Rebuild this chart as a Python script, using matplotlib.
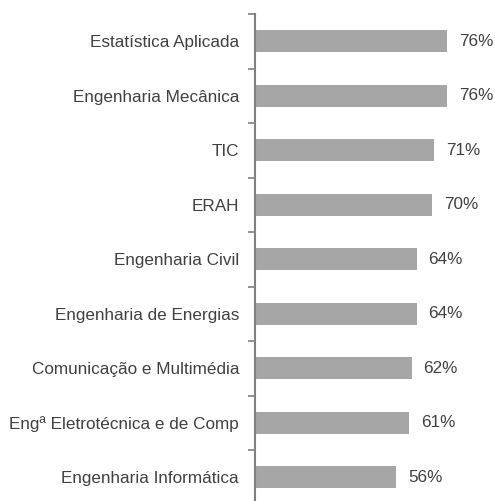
import matplotlib.pyplot as plt
from matplotlib.ticker import FixedLocator
import numpy as np

# cursos e percentagens (de cima para baixo)
cursos = ['Estatística Aplicada', 'Engenharia Mecânica', 'TIC', 'ERAH',
          'Engenharia Civil', 'Engenharia de Energias',
          'Comunicação e Multimédia', 'Engª Eletrotécnica e de Comp',
          'Engenharia Informática']
valores = [76, 76, 71, 70, 64, 64, 62, 61, 56]

cor_texto = '#404040'
plt.rcParams['font.family'] = ['Liberation Sans', 'DejaVu Sans']
fs = 12.3

fig = plt.figure(figsize=(4.95, 5.01), dpi=100)
# eixo: x=0 em 255px, topo em 14px, 54.5px por categoria
ax = fig.add_axes([255 / 495, (501 - 14 - 9 * 54.5) / 501, 240 / 495, 9 * 54.5 / 501])

y = np.arange(len(cursos))
ax.barh(y, valores, height=0.4, color='#a6a6a6')
ax.set_ylim(len(cursos) - 0.5, -0.5)
ax.set_xlim(0, 95)

for yi, v in zip(y, valores):
    ax.annotate(f'{v}%', (v, yi), xytext=(8.5, 0), textcoords='offset points',
                va='center', ha='left', fontsize=fs, color=cor_texto)

ax.set_yticks(y)
ax.set_yticklabels(cursos, fontsize=fs, color=cor_texto)
ax.tick_params(axis='y', which='major', length=0, pad=11.5)
ax.yaxis.set_minor_locator(FixedLocator(np.arange(-0.5, len(cursos), 1)))
ax.tick_params(axis='y', which='minor', length=5, width=1.2, color='#808080')
ax.xaxis.set_visible(False)
for s in ['top', 'right', 'bottom']:
    ax.spines[s].set_visible(False)
ax.spines['left'].set_color('#808080')
ax.spines['left'].set_linewidth(1.5)

fig.savefig('out.png', dpi=100)
